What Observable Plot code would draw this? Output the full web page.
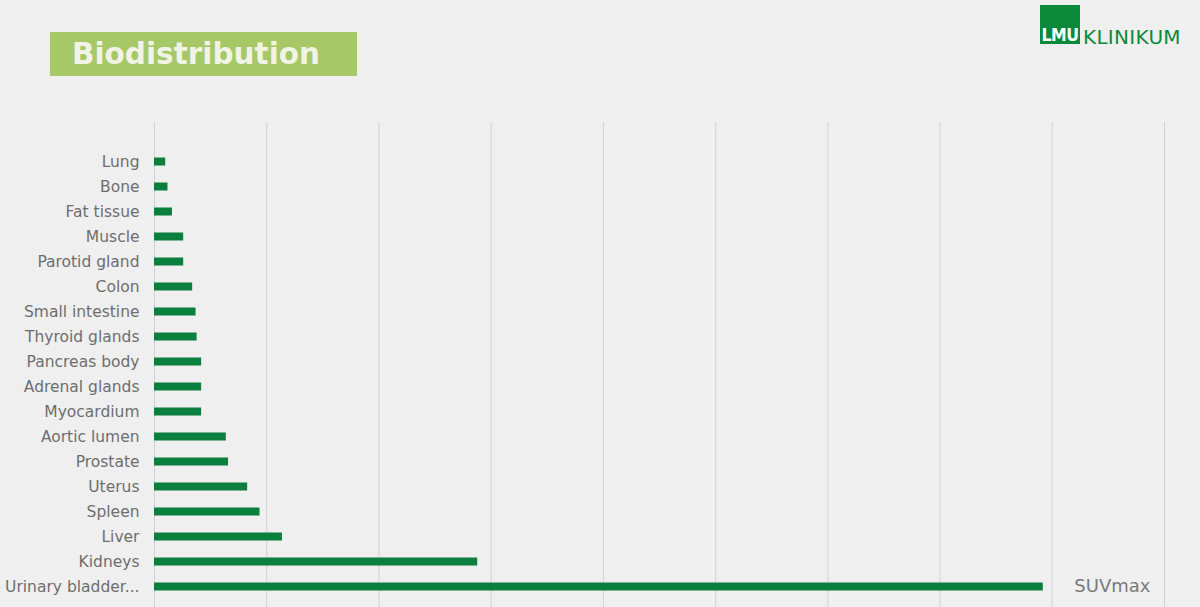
<!DOCTYPE html>
<html>
<head>
<meta charset="utf-8">
<script src="https://cdn.jsdelivr.net/npm/d3@7"></script>
<script src="https://cdn.jsdelivr.net/npm/@observablehq/plot@0.6"></script>
<style>
  html, body { margin: 0; padding: 0; background: #efefef; }
  body { width: 1200px; height: 607px; overflow: hidden; position: relative; font-family: "DejaVu Sans", Verdana, sans-serif; }
  #header { position: relative; height: 110px; }
  #title {
    position: absolute; left: 50px; top: 32px; width: 307px; height: 44px;
    background: #a6c866; color: #f1f3e6; font-weight: bold; font-size: 29.5px;
    line-height: 44px; padding-left: 22px; box-sizing: border-box;
  }
  #logo { position: absolute; left: 1040px; top: 5px; }
  #logo .box {
    position: absolute; left: 0; top: 0; width: 40px; height: 39px; background: #0b8a3c;
  }
  #logo .lmu {
    position: absolute; left: 0px; top: 20px; width: 40px; text-align: center;
    color: #ffffff; font-weight: bold; font-size: 17.5px; letter-spacing: -0.5px; font-family: "DejaVu Sans Condensed", "DejaVu Sans", sans-serif;
  }
  #logo .klinikum {
    position: absolute; left: 43px; top: 20px; color: #0b8a3c; font-size: 20px; white-space: nowrap;
    font-family: "DejaVu Sans", sans-serif; letter-spacing: 0.3px;
  }
  #chart { position: absolute; left: 0; top: 110px; }
</style>
</head>
<body>
<div id="header">
  <div id="title">Biodistribution</div>
  <div id="logo"><div class="box"></div><div class="lmu">LMU</div><div class="klinikum">KLINIKUM</div></div>
</div>
<div id="chart"></div>
<script>
const organs = ["Lung", "Bone", "Fat tissue", "Muscle", "Parotid gland", "Colon", "Small intestine",
  "Thyroid glands", "Pancreas body", "Adrenal glands", "Myocardium", "Aortic lumen", "Prostate",
  "Uterus", "Spleen", "Liver", "Kidneys", "Urinary bladder..."];
const suvmax = [0.5, 0.6, 0.8, 1.3, 1.3, 1.7, 1.85, 1.9, 2.1, 2.1, 2.1, 3.2, 3.3, 4.15, 4.7, 5.7, 14.4, 39.6];
const gridTicks = [0, 5, 10, 15, 20, 25, 30, 35, 40, 45];
const axisLabel = "SUVmax";

const data = organs.map((o, i) => ({organ: o, value: suvmax[i]}));

const chart = Plot.plot({
  width: 1200,
  height: 497,
  marginLeft: 154,
  marginRight: 36,
  marginTop: 12,
  marginBottom: 0,
  style: {background: "transparent", fontFamily: "DejaVu Sans, Verdana, sans-serif"},
  x: {domain: [0, 45], axis: null},
  y: {domain: organs, range: [37.4, 489.6], padding: 0, axis: null},
  marks: [
    Plot.gridX(gridTicks, {stroke: "#d2d2d2", strokeOpacity: 1, strokeWidth: 1}),
    Plot.barX(data, {x: "value", y: "organ", fill: "#0b7f3e", insetTop: 8.5, insetBottom: 8.5}),
    Plot.axisY({tickSize: 0, tickPadding: 15, fontSize: 15.5, color: "#6e6e6e", label: null}),
    Plot.text([axisLabel], {frameAnchor: "bottom-right", dx: -14, dy: -16, fontSize: 18, fill: "#7a7a7a"})
  ]
});
document.getElementById("chart").appendChild(chart);
</script>
</body>
</html>
